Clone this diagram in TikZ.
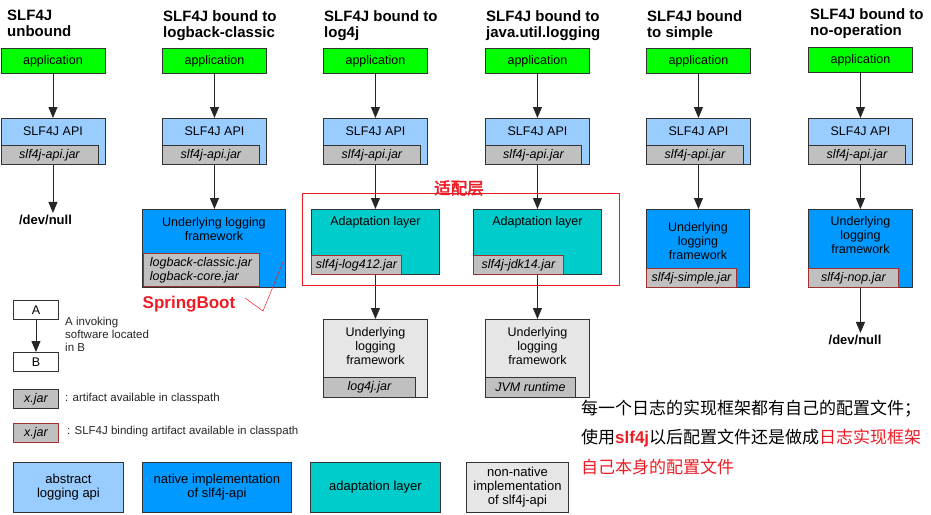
\documentclass[tikz,border=0pt]{standalone}
\usepackage{fontspec}
\setmainfont{Liberation Sans}
\newfontfamily\cjk{Noto Sans CJK SC}
\newfontfamily\cjkb[FakeBold=2.5]{Noto Sans CJK SC}
\usetikzlibrary{arrows.meta,calc}
\definecolor{appgreen}{RGB}{0,255,0}
\definecolor{apiblue}{RGB}{153,204,255}
\definecolor{natblue}{RGB}{0,153,255}
\definecolor{adcyan}{RGB}{0,204,204}
\definecolor{nngray}{RGB}{230,230,230}
\definecolor{jargray}{RGB}{192,192,192}
\definecolor{edge}{RGB}{51,51,51}
\definecolor{bindred}{RGB}{160,48,48}
\definecolor{annred}{RGB}{237,28,36}
\tikzset{
  box/.style={draw=edge, line width=0.9pt, inner sep=0pt, anchor=north west, align=center},
  appbox/.style={box, fill=appgreen, minimum width=104pt, minimum height=25pt, font=\fontsize{12.5pt}{14pt}\selectfont},
  apibox/.style={box, fill=apiblue, minimum width=104pt, minimum height=46pt},
  natbox/.style={box, fill=natblue, minimum width=104pt, minimum height=78pt},
  adbox/.style={box, fill=adcyan, minimum width=128pt, minimum height=65pt},
  nnbox/.style={box, fill=nngray, minimum width=104pt, minimum height=78pt},
  jarbox/.style={box, fill=jargray, minimum height=19pt, font=\fontsize{12.5pt}{14pt}\selectfont\itshape},
  bindbox/.style={jarbox, draw=bindred},
  lbl/.style={inner sep=0pt, align=center, font=\fontsize{12.5pt}{14pt}\selectfont},
  ttl/.style={inner sep=0pt, align=left, anchor=north west, font=\fontsize{15pt}{16pt}\selectfont\bfseries},
  devnull/.style={inner sep=2pt, font=\fontsize{13pt}{15pt}\selectfont\bfseries},
  arr/.style={draw=black!85, line width=0.9pt, -{Triangle[width=9pt,length=11pt]}},
  legtext/.style={inner sep=0pt, align=left, font=\fontsize{11.5pt}{13pt}\selectfont, text=black!85},
  keybox/.style={box, minimum height=50pt, font=\fontsize{13pt}{14pt}\selectfont},
  cn/.style={inner sep=0pt, anchor=west, font=\cjk\fontsize{17pt}{18pt}\selectfont},
}
\begin{document}
\begin{tikzpicture}[x=1pt,y=-1pt]
\useasboundingbox (0,0) rectangle (931,514);
% ---------- column 1
\node[ttl] (t1) at (7,10) {SLF4J\\unbound};
\node[appbox] (app1) at (0.5,48) {application};
\node[apibox] (api1) at (0.5,118) {};
\node[jarbox, minimum width=97pt] (jar1) at (0.5,145) {slf4j-api.jar};
\node[lbl] (apit1) at ($(api1.north)+(0,13)$) {SLF4J API};
\node[devnull] (dn1) at (45.5,220) {/dev/null};
\draw[arr] (app1) -- (api1);
\draw[arr] (api1) -- (api1.south |- dn1.north);
% ---------- column 2
\node[ttl] (t2) at (163,10.5) {SLF4J bound to\\logback-classic};
\node[appbox] (app2) at (162,48) {application};
\node[apibox] (api2) at (162,118) {};
\node[jarbox, minimum width=97pt] (jar2) at (162,145) {slf4j-api.jar};
\node[lbl] (apit2) at ($(api2.north)+(0,13)$) {SLF4J API};
\node[natbox, minimum width=143pt] (fw2) at (142,209) {};
\node[lbl] (fwt2) at ($(fw2.north)+(0,20)$) {Underlying logging\\framework};
\node[bindbox, minimum width=116pt, minimum height=33pt, align=left, inner xsep=3pt] (jb2) at (142.5,253) {logback-classic.jar\\logback-core.jar};
\draw[arr] (app2) -- (api2);
\draw[arr] (api2) -- (api2.south |- fw2.north);
% ---------- column 3
\node[ttl] (t3) at (324,10.5) {SLF4J bound to\\log4j};
\node[appbox] (app3) at (323,48) {application};
\node[apibox] (api3) at (323,118) {};
\node[jarbox, minimum width=97pt] (jar3) at (323,145) {slf4j-api.jar};
\node[lbl] (apit3) at ($(api3.north)+(0,13)$) {SLF4J API};
\node[adbox] (ad3) at (311,209) {};
\node[lbl] (adt3) at ($(ad3.north)+(0,13)$) {Adaptation layer};
\node[bindbox, minimum width=90pt] (jb3) at (311,255) {slf4j-log412.jar};
\node[nnbox] (fw3) at (323,319) {};
\node[lbl] (fwt3) at ($(fw3.north)+(0,27)$) {Underlying\\logging\\framework};
\node[jarbox, minimum width=92pt, minimum height=20pt] (jc3) at (323,377) {log4j.jar};
\draw[arr] (app3) -- (api3);
\draw[arr] (api3) -- (api3.south |- ad3.north);
\draw[arr] (api3.south |- ad3.south) -- (api3.south |- fw3.north);
% ---------- column 4
\node[ttl] (t4) at (486,10.5) {SLF4J bound to\\java.util.logging};
\node[appbox] (app4) at (485,48) {application};
\node[apibox] (api4) at (485,118) {};
\node[jarbox, minimum width=96pt] (jar4) at (485,145) {slf4j-api.jar};
\node[lbl] (apit4) at ($(api4.north)+(0,13)$) {SLF4J API};
\node[adbox] (ad4) at (473,209) {};
\node[lbl] (adt4) at ($(ad4.north)+(0,13)$) {Adaptation layer};
\node[bindbox, minimum width=90pt] (jb4) at (473,255) {slf4j-jdk14.jar};
\node[nnbox] (fw4) at (485,319) {};
\node[lbl] (fwt4) at ($(fw4.north)+(0,27)$) {Underlying\\logging\\framework};
\node[jarbox, minimum width=90pt, minimum height=20pt] (jc4) at (485,377) {JVM runtime};
\draw[arr] (app4) -- (api4);
\draw[arr] (api4) -- (api4.south |- ad4.north);
\draw[arr] (api4.south |- ad4.south) -- (api4.south |- fw4.north);
% ---------- column 5
\node[ttl] (t5) at (647,10.5) {SLF4J bound\\to simple};
\node[appbox] (app5) at (646,48) {application};
\node[apibox] (api5) at (646,118) {};
\node[jarbox, minimum width=97pt] (jar5) at (646,145) {slf4j-api.jar};
\node[lbl] (apit5) at ($(api5.north)+(0,13)$) {SLF4J API};
\node[natbox, minimum width=103pt] (fw5) at (646,209) {};
\node[lbl] (fwt5) at ($(fw5.north)+(0,32)$) {Underlying\\logging\\framework};
\node[bindbox, minimum width=90pt] (jb5) at (646,268) {slf4j-simple.jar};
\draw[arr] (app5) -- (api5);
\draw[arr] (api5) -- (api5.south |- fw5.north);
% ---------- column 6
\node[ttl] (t6) at (810,8.5) {SLF4J bound to\\no-operation};
\node[appbox] (app6) at (808,47) {application};
\node[apibox] (api6) at (808,118) {};
\node[jarbox, minimum width=97pt] (jar6) at (808,145) {slf4j-api.jar};
\node[lbl] (apit6) at ($(api6.north)+(0,13)$) {SLF4J API};
\node[natbox] (fw6) at (808,209) {};
\node[lbl] (fwt6) at ($(fw6.north)+(0,26)$) {Underlying\\logging\\framework};
\node[bindbox, minimum width=90pt] (jb6) at (808,268) {slf4j-nop.jar};
\node[devnull] (dn6) at (855,340) {/dev/null};
\draw[arr] (app6) -- (api6);
\draw[arr] (api6) -- (api6.south |- fw6.north);
\draw[arr] (fw6) -- (fw6.south |- dn6.north);
% ---------- annotations
\node[draw=annred, line width=0.8pt, inner sep=0pt, minimum width=317pt, minimum height=92pt, anchor=north west] (grp) at (302,193) {};
\node[inner sep=0pt, text=annred, font=\cjkb\fontsize{16.5pt}{18pt}\selectfont] (grpt) at (459,188) {适配层};
\node[inner sep=0pt, text=annred, font=\fontsize{17pt}{19pt}\selectfont\bfseries] (sb) at (189,304) {SpringBoot};
\draw[annred, line width=0.5pt] (245,298) -- (263,311) -- (283,262);
% ---------- legend
\node[box, fill=white, minimum width=45pt, minimum height=19pt, font=\fontsize{12.5pt}{14pt}\selectfont] (la) at (13,300) {A};
\node[box, fill=white, minimum width=45pt, minimum height=19pt, font=\fontsize{12.5pt}{14pt}\selectfont] (lb) at (13,352) {B};
\draw[arr] (la) -- (lb);
\node[legtext, anchor=west] (lt) at (65,334) {A invoking\\software located\\in B};
\node[jarbox, minimum width=45pt] (lx1) at (13,389) {x.jar};
\node[legtext, anchor=west] (lx1t) at (65,399) {: artifact available in classpath};
\node[bindbox, minimum width=45pt] (lx2) at (13,423) {x.jar};
\node[legtext, anchor=west] (lx2t) at (67,432) {: SLF4J binding artifact available in classpath};
\node[keybox, fill=apiblue, minimum width=110pt] (k1) at (13,462) {abstract\\logging api};
\node[keybox, fill=natblue, minimum width=149pt] (k2) at (142,462) {native implementation\\of slf4j-api};
\node[keybox, fill=adcyan, minimum width=130pt] (k3) at (310,462) {adaptation layer};
\node[keybox, fill=nngray, minimum width=102pt] (k4) at (466,462) {non-native\\implementation\\of slf4j-api};
% ---------- chinese notes
\node[cn] (c1) at (581,409) {每一个日志的实现框架都有自己的配置文件；};
\node[cn] (c2) at (581,438) {使用{\rmfamily\bfseries\color{annred}slf4j}以后配置文件还是做成{\color{annred}日志实现框架}};
\node[cn, text=annred] (c3) at (581,467) {自己本身的配置文件};
\end{tikzpicture}
\end{document}
